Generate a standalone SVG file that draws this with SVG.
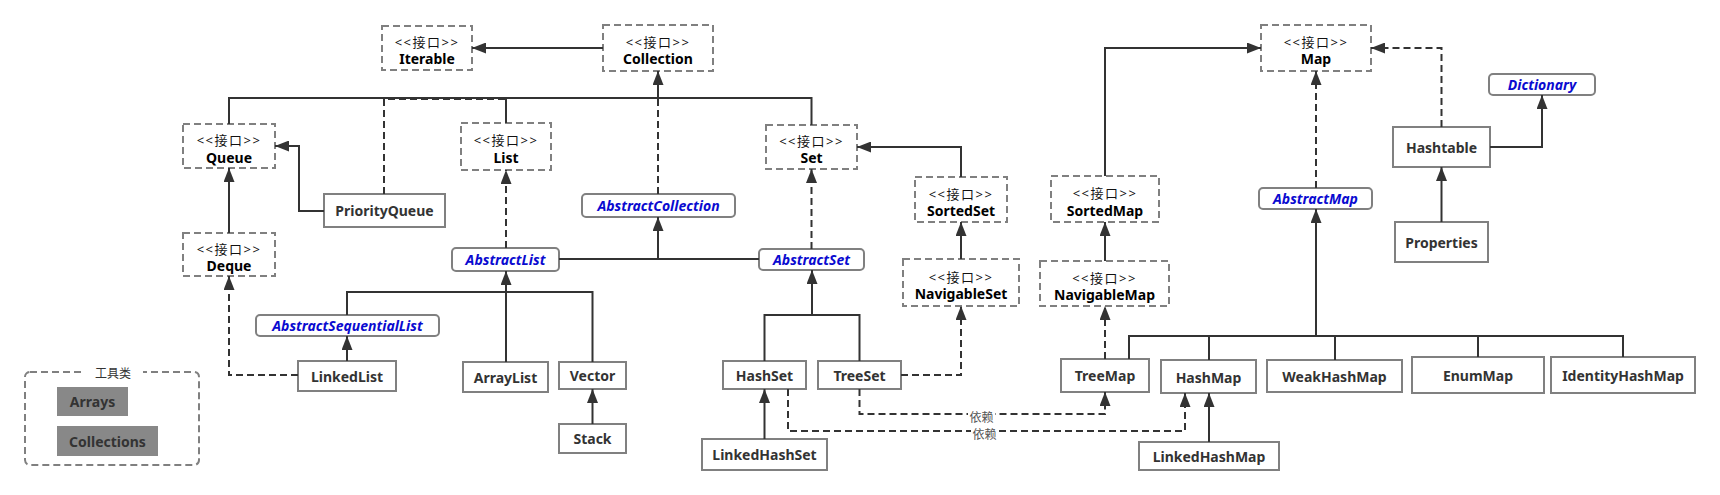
<svg xmlns="http://www.w3.org/2000/svg" width="1720" height="495" viewBox="0 0 1720 495">
<style>
text{font-family:"Noto Sans","Noto Sans CJK SC",sans-serif;dominant-baseline:central;text-anchor:middle}
.ifc{fill:#fff;stroke:#808080;stroke-width:2;stroke-dasharray:7 4}
.cls{fill:#fff;stroke:#808080;stroke-width:2}
.abs{fill:#fff;stroke:#808080;stroke-width:2}
.st{font-size:13px;fill:#111;letter-spacing:1.5px}
.in{font-size:14px;font-weight:bold;fill:#000}
.cn{font-size:14px;font-weight:bold;fill:#333}
.an{font-size:14px;font-weight:bold;font-style:italic;fill:#0a0ad0}
.ln{fill:none;stroke:#333;stroke-width:2}
.dl{fill:none;stroke:#333;stroke-width:2;stroke-dasharray:7 4}
.ar{marker-end:url(#arr)}
.dep{font-size:12px;fill:#555}
.tool{fill:#888;stroke:none}
.tn{font-size:14px;font-weight:bold;fill:#333}
</style>
<defs>
<marker id="arr" markerUnits="userSpaceOnUse" markerWidth="14" markerHeight="11" refX="14" refY="5.5" orient="auto"><path d="M0,0 L14,5.5 L0,11 z" fill="#333"/></marker>
</defs>
<rect width="1720" height="495" fill="#fff"/>

<g id="Iterable"><rect class="ifc" x="382" y="26" width="90" height="44"/><text class="st" x="427" y="42">&lt;&lt;接口&gt;&gt;</text><text class="in" x="427" y="58">Iterable</text></g>
<g id="Collection"><rect class="ifc" x="603" y="25" width="110" height="46"/><text class="st" x="658" y="42">&lt;&lt;接口&gt;&gt;</text><text class="in" x="658" y="58">Collection</text></g>
<g id="Queue"><rect class="ifc" x="183" y="124" width="92" height="44"/><text class="st" x="229" y="140">&lt;&lt;接口&gt;&gt;</text><text class="in" x="229" y="157">Queue</text></g>
<g id="Deque"><rect class="ifc" x="183" y="233" width="92" height="43"/><text class="st" x="229" y="249">&lt;&lt;接口&gt;&gt;</text><text class="in" x="229" y="265">Deque</text></g>
<g id="List"><rect class="ifc" x="461" y="123" width="90" height="47"/><text class="st" x="506" y="140">&lt;&lt;接口&gt;&gt;</text><text class="in" x="506" y="157">List</text></g>
<g id="Set"><rect class="ifc" x="766" y="125" width="91" height="44"/><text class="st" x="811.5" y="141">&lt;&lt;接口&gt;&gt;</text><text class="in" x="811.5" y="157">Set</text></g>
<g id="SortedSet"><rect class="ifc" x="915" y="177" width="92" height="45"/><text class="st" x="961" y="194">&lt;&lt;接口&gt;&gt;</text><text class="in" x="961" y="210">SortedSet</text></g>
<g id="NavigableSet"><rect class="ifc" x="903" y="259" width="116" height="47"/><text class="st" x="961" y="277">&lt;&lt;接口&gt;&gt;</text><text class="in" x="961" y="293">NavigableSet</text></g>
<g id="Map"><rect class="ifc" x="1261" y="25" width="110" height="46"/><text class="st" x="1316" y="42">&lt;&lt;接口&gt;&gt;</text><text class="in" x="1316" y="58">Map</text></g>
<g id="SortedMap"><rect class="ifc" x="1051" y="176" width="108" height="46"/><text class="st" x="1105" y="193">&lt;&lt;接口&gt;&gt;</text><text class="in" x="1105" y="210">SortedMap</text></g>
<g id="NavigableMap"><rect class="ifc" x="1040" y="261" width="129" height="45"/><text class="st" x="1104.5" y="278">&lt;&lt;接口&gt;&gt;</text><text class="in" x="1104.5" y="294">NavigableMap</text></g>

<g id="AbstractCollection"><rect class="abs" x="582" y="194" width="153" height="23" rx="4"/><text class="an" x="658.5" y="205.5">AbstractCollection</text></g>
<g id="AbstractList"><rect class="abs" x="452" y="248" width="107" height="23" rx="4"/><text class="an" x="505.5" y="259.5">AbstractList</text></g>
<g id="AbstractSet"><rect class="abs" x="759" y="249" width="105" height="21" rx="4"/><text class="an" x="811.5" y="259.5">AbstractSet</text></g>
<g id="AbstractSequentialList"><rect class="abs" x="256" y="315" width="183" height="21" rx="4"/><text class="an" x="347.5" y="325.5">AbstractSequentialList</text></g>
<g id="AbstractMap"><rect class="abs" x="1259" y="188" width="113" height="21" rx="4"/><text class="an" x="1315.5" y="198.5">AbstractMap</text></g>
<g id="Dictionary"><rect class="abs" x="1489" y="74" width="106" height="21" rx="4"/><text class="an" x="1542" y="84.5">Dictionary</text></g>

<g id="PriorityQueue"><rect class="cls" x="324" y="194" width="121" height="33"/><text class="cn" x="384.5" y="210.5">PriorityQueue</text></g>
<g id="LinkedList"><rect class="cls" x="298" y="361" width="98" height="30"/><text class="cn" x="347" y="376">LinkedList</text></g>
<g id="ArrayList"><rect class="cls" x="463" y="362" width="85" height="30"/><text class="cn" x="505.5" y="377">ArrayList</text></g>
<g id="Vector"><rect class="cls" x="559" y="362" width="67" height="27"/><text class="cn" x="592.5" y="375.5">Vector</text></g>
<g id="Stack"><rect class="cls" x="559" y="424" width="67" height="29"/><text class="cn" x="592.5" y="438.5">Stack</text></g>
<g id="HashSet"><rect class="cls" x="723" y="361" width="83" height="28"/><text class="cn" x="764.5" y="375">HashSet</text></g>
<g id="TreeSet"><rect class="cls" x="818" y="361" width="83" height="28"/><text class="cn" x="859.5" y="375">TreeSet</text></g>
<g id="LinkedHashSet"><rect class="cls" x="702" y="439" width="125" height="31"/><text class="cn" x="764.5" y="454.5">LinkedHashSet</text></g>
<g id="TreeMap"><rect class="cls" x="1061" y="359" width="88" height="33"/><text class="cn" x="1105" y="375.5">TreeMap</text></g>
<g id="HashMap"><rect class="cls" x="1161" y="360" width="95" height="33"/><text class="cn" x="1208.5" y="377">HashMap</text></g>
<g id="LinkedHashMap"><rect class="cls" x="1139" y="442" width="140" height="28"/><text class="cn" x="1209" y="456">LinkedHashMap</text></g>
<g id="WeakHashMap"><rect class="cls" x="1267" y="360" width="135" height="32"/><text class="cn" x="1334.5" y="376">WeakHashMap</text></g>
<g id="EnumMap"><rect class="cls" x="1412" y="357" width="132" height="36"/><text class="cn" x="1478" y="375">EnumMap</text></g>
<g id="IdentityHashMap"><rect class="cls" x="1551" y="357" width="144" height="36"/><text class="cn" x="1623" y="375">IdentityHashMap</text></g>
<g id="Hashtable"><rect class="cls" x="1393" y="127" width="97" height="40"/><text class="cn" x="1441.5" y="147">Hashtable</text></g>
<g id="Properties"><rect class="cls" x="1395" y="222" width="93" height="40"/><text class="cn" x="1441.5" y="242">Properties</text></g>

<g id="tools">
<rect x="25" y="372" width="174" height="93" rx="5" fill="none" stroke="#808080" stroke-width="2" stroke-dasharray="7 4"/>
<rect x="82" y="366" width="61" height="12" fill="#fff"/>
<text x="113" y="373" style="font-size:12px;fill:#333">工具类</text>
<g id="Arrays"><rect class="tool" x="57" y="387" width="71" height="29"/><text class="tn" x="92.5" y="401.5">Arrays</text></g>
<g id="Collections"><rect class="tool" x="57" y="426" width="101" height="30"/><text class="tn" x="107.5" y="441">Collections</text></g>
</g>

<g id="connectors">
<path class="dl" d="M384,194 V99 H506"/>
<path class="ln" d="M229,124 V98 H811.5 V125 M506,123 V98"/>
<path class="ln ar" d="M603,48 H472"/>
<path class="ln ar" d="M658,98 V71"/>
<path class="dl" d="M658,194 V99"/>
<path class="ln ar" d="M324,211 H299 V146 H275"/>
<path class="ln ar" d="M229,233 V168"/>
<path class="dl ar" d="M298,375 H229 V276"/>
<path class="dl ar" d="M506,248 V170"/>
<path class="ln" d="M559,259 H759"/>
<path class="ln ar" d="M658,259 V217"/>
<path class="dl ar" d="M811.5,249 V169"/>
<path class="ln ar" d="M961,177 V147 H857"/>
<path class="ln ar" d="M961,259 V222"/>
<path class="dl ar" d="M901,375 H961 V306"/>
<path class="ln" d="M347,315 V292 H592.5 V362"/>
<path class="ln ar" d="M506,362 V271"/>
<path class="ln ar" d="M347,361 V336"/>
<path class="ln ar" d="M592.5,424 V389"/>
<path class="ln" d="M764.5,361 V315 H859.5 V361"/>
<path class="ln ar" d="M812,315 V270"/>
<path class="ln ar" d="M764.5,439 V389"/>
<path class="dl ar" d="M788,389 V431 H1185 V393"/>
<path class="dl ar" d="M859.5,389 V414 H1105 V392"/>
<path class="ln ar" d="M1105,176 V48 H1261"/>
<path class="ln ar" d="M1105,261 V222"/>
<path class="dl ar" d="M1105,359 V306"/>
<path class="dl ar" d="M1316,188 V71"/>
<path class="ln ar" d="M1316,336 V209"/>
<path class="ln" d="M1129,359 V336 H1623 V357 M1209,336 V360 M1335,336 V360 M1478,336 V357"/>
<path class="ln ar" d="M1209,442 V393"/>
<path class="dl ar" d="M1441.5,127 V48 H1371"/>
<path class="ln ar" d="M1490,147 H1542 V95"/>
<path class="ln ar" d="M1441.5,222 V167"/>
<rect x="968" y="410" width="27" height="14" fill="#fff"/>
<text class="dep" x="981.5" y="417">依赖</text>
<rect x="971" y="427" width="27" height="14" fill="#fff"/>
<text class="dep" x="984.5" y="434">依赖</text>
</g>
</svg>
